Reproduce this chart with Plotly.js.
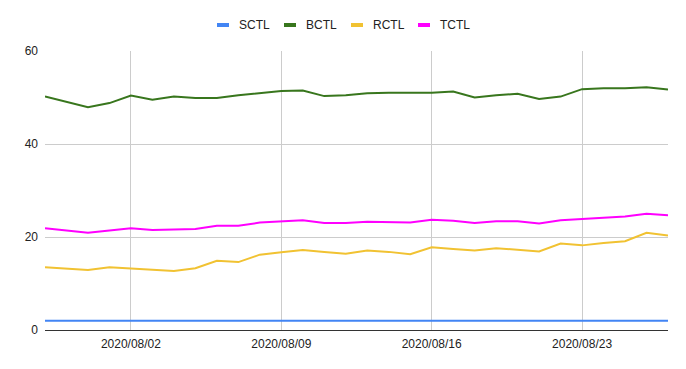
<!DOCTYPE html>
<html>
<head>
<meta charset="utf-8">
<script src="https://cdn.plot.ly/plotly-3.0.1.min.js"></script>
<style>html,body{margin:0;padding:0;background:#fff;}#chart{width:686px;height:369px;}</style>
</head>
<body>
<div id="chart"></div>
<script>
const dates = ["2020-07-29","2020-07-31","2020-08-01","2020-08-02","2020-08-03","2020-08-04","2020-08-05","2020-08-06","2020-08-07","2020-08-08","2020-08-09","2020-08-10","2020-08-11","2020-08-12","2020-08-13","2020-08-14","2020-08-15","2020-08-16","2020-08-17","2020-08-18","2020-08-19","2020-08-20","2020-08-21","2020-08-22","2020-08-23","2020-08-24","2020-08-25","2020-08-26","2020-08-27"];
const SCTL = [2,2,2,2,2,2,2,2,2,2,2,2,2,2,2,2,2,2,2,2,2,2,2,2,2,2,2,2,2];
const BCTL = [50.2,47.9,48.8,50.4,49.5,50.2,49.9,49.9,50.5,51.0,51.4,51.5,50.3,50.5,50.9,51.0,51.0,51.0,51.3,50.0,50.5,50.8,49.7,50.2,51.8,52.0,52.0,52.2,51.7];
const RCTL = [13.5,12.9,13.5,13.2,12.9,12.7,13.3,14.9,14.6,16.2,16.7,17.2,16.8,16.4,17.1,16.8,16.3,17.8,17.4,17.1,17.6,17.3,16.9,18.6,18.2,18.7,19.1,20.9,20.3];
const TCTL = [21.9,20.9,21.4,21.9,21.5,21.6,21.7,22.4,22.4,23.1,23.4,23.6,23.0,23.0,23.3,23.2,23.1,23.7,23.5,23.0,23.4,23.4,22.9,23.6,23.9,24.2,24.4,25.0,24.7];
const seriesNames = ["SCTL","BCTL","RCTL","TCTL"];
const seriesData = [SCTL,BCTL,RCTL,TCTL];
const colors = ["#4285F4","#38761D","#F1C232","#FF00FF"];
const yTicks = [0,20,40,60];

const W = 686, H = 369, ML = 45, MR = 18, MT = 51, MB = 39;
const PW = W - ML - MR, PH = H - MT - MB;
const px2x = p => (p - ML) / PW;
const px2y = p => (H - MB - p) / PH;

const traces = seriesNames.map((n,i)=>({
  x: dates, y: seriesData[i], name: n, type: 'scatter', mode: 'lines',
  line: {color: colors[i], width: 2}, showlegend: false
}));

// custom legend (Google-Sheets style short swatches)
const legStart = [217, 284, 351, 418];
const shapes = [], annotations = [];
seriesNames.forEach((n,i)=>{
  const x0 = legStart[i];
  shapes.push({type:'rect', xref:'paper', yref:'paper', x0: px2x(x0), x1: px2x(x0+12),
    y0: px2y(27), y1: px2y(23), fillcolor: colors[i], line:{width:0}});
  annotations.push({xref:'paper', yref:'paper', x: px2x(x0+20), y: px2y(25), xanchor:'left', yanchor:'middle',
    text: n, showarrow:false, font:{size:12, color:'#222'}});
});

const layout = {
  width: W, height: H,
  margin: {l: ML, r: MR, t: MT, b: MB},
  paper_bgcolor: '#fff', plot_bgcolor: '#fff',
  font: {family: 'Liberation Sans, Arial, sans-serif', size: 12, color: '#222'},
  showlegend: false,
  shapes: shapes, annotations: annotations,
  xaxis: {
    type: 'date', range: ['2020-07-29','2020-08-27'],
    tick0: '2020-08-02', dtick: 7*24*3600*1000, tickformat: '%Y/%m/%d',
    showgrid: true, gridcolor: '#cccccc', gridwidth: 1,
    zeroline: false, showline: false, ticks: '', tickfont: {size: 12, color: '#222'},
    ticklabelstandoff: 5
  },
  yaxis: {
    range: [0, 60], tickvals: yTicks, ticktext: yTicks.map(String),
    showgrid: true, gridcolor: '#cccccc', gridwidth: 1,
    zeroline: true, zerolinecolor: '#333333', zerolinewidth: 1,
    showline: false, ticks: '', tickfont: {size: 12, color: '#222'}, ticklabelstandoff: 6
  }
};
Plotly.newPlot('chart', traces, layout, {displayModeBar: false, staticPlot: true});
</script>
</body>
</html>
